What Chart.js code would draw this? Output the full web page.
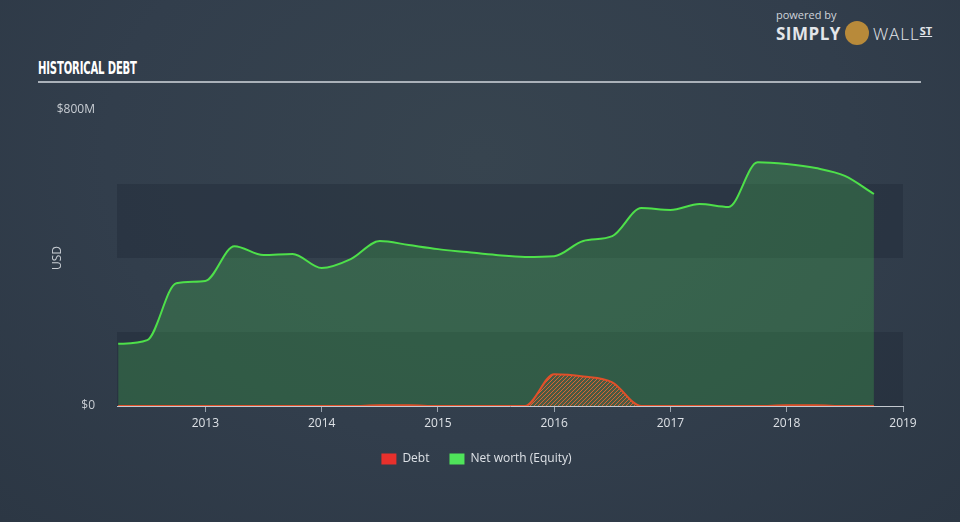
<!DOCTYPE html>
<html>
<head>
<meta charset="utf-8">
<script src="https://cdn.jsdelivr.net/npm/chart.js@4.4.0/dist/chart.umd.min.js"></script>
<style>
  html, body { margin: 0; padding: 0; }
  body {
    width: 960px; height: 522px; overflow: hidden; position: relative;
    background: radial-gradient(ellipse at 50% 30%, #37444f 0%, #323e4c 55%, #2c3744 100%);
    font-family: "Open Sans", "DejaVu Sans", sans-serif;
  }
  #title {
    position: absolute; left: 38px; top: 57px;
    font-family: "DejaVu Sans", sans-serif;
    font-weight: bold; font-size: 18px; color: #ffffff; letter-spacing: -0.3px;
    transform: scaleX(0.56); transform-origin: left top; white-space: nowrap;
  }
  #rule { position: absolute; left: 38px; top: 81px; width: 883px; height: 2px; background: #aab1b9; }
  #logo { position: absolute; left: 776px; top: 9px; color: #e3e6ea; }
  #logo .pb { font-size: 11px; color: #cfd4da; line-height: 12px; }
  #logo .sw { font-size: 17px; line-height: 20px; white-space: nowrap; }
  #logo .b { font-weight: bold; letter-spacing: 0.5px; }
  #logo .w { letter-spacing: 1px; font-weight: 300; }
  #logo .st { font-size: 11px; font-weight: bold; text-decoration: underline; vertical-align: 5px; }
  #logo .bull { display: inline-block; width: 24px; height: 24px; border-radius: 12px; background: #b88a3a; vertical-align: -5px; margin: 0 4px; }
  #wrap { position: absolute; left: 0; top: 0; width: 960px; height: 522px; }
</style>
</head>
<body>
<div id="title">HISTORICAL DEBT</div>
<div id="rule"></div>
<div id="logo">
  <div class="pb">powered by</div>
  <div class="sw"><span class="b">SIMPLY</span><span class="bull"></span><span class="w">WALL</span><span class="st">ST</span></div>
</div>
<div id="wrap"><canvas id="debtChart" width="960" height="522"></canvas></div>
<script>
// quarterly periods (decimal years), values in $M
var periods = [2012.25, 2012.5, 2012.75, 2013.0, 2013.25, 2013.5, 2013.75, 2014.0, 2014.25,
               2014.5, 2014.75, 2015.0, 2015.25, 2015.5, 2015.75, 2016.0, 2016.25, 2016.5,
               2016.75, 2017.0, 2017.25, 2017.5, 2017.75, 2018.0, 2018.25, 2018.5, 2018.75];
var netWorth = [168, 178, 332, 338, 432, 408, 411, 373, 397,
                446, 435, 424, 416, 408, 403, 405, 446, 459,
                535, 530, 546, 538, 659, 654, 643, 622, 573];
var debt = [0, 0, 0, 0, 0, 0, 0, 0, 0,
            2, 2, 0, 0, 0, 0, 86, 80, 64,
            0, 0, 0, 0, 0, 2, 2, 0, 0];
var yearTicks = [2013, 2014, 2015, 2016, 2017, 2018, 2019];

function toPoints(vals){
    var pts = [];
    for (var i = 0; i < periods.length; i++) {
        pts.push({x: periods[i], y: vals[i]});
    }
    return pts;
}

// hatch pattern for the debt area
function makeHatch(){
    var c = document.createElement('canvas');
    c.width = 4; c.height = 4;
    var g = c.getContext('2d');
    g.fillStyle = 'rgba(120, 90, 60, 0.35)';
    g.fillRect(0, 0, 4, 4);
    g.strokeStyle = 'rgba(232, 100, 50, 0.9)';
    g.lineWidth = 1;
    g.beginPath();
    g.moveTo(0, 4); g.lineTo(4, 0);
    g.moveTo(-2, 2); g.lineTo(2, -2);
    g.moveTo(2, 6); g.lineTo(6, 2);
    g.stroke();
    return g.createPattern(c, 'repeat');
}

// darker horizontal bands behind the data
var bandsPlugin = {
    id: 'bands',
    beforeDatasetsDraw: function(chart){
        var ctx = chart.ctx, area = chart.chartArea, y = chart.scales.y;
        ctx.save();
        ctx.fillStyle = 'rgba(30, 38, 52, 0.35)';
        [[0, 200], [400, 600]].forEach(function(b){
            var top = y.getPixelForValue(b[1]), bot = y.getPixelForValue(b[0]);
            ctx.fillRect(area.left, top, area.right - area.left, bot - top);
        });
        ctx.restore();
    }
};

var ctx = document.getElementById('debtChart').getContext('2d');
var myChart = new Chart(ctx, {
    type: 'line',
    data: {
        datasets: [{
            label: 'Debt',
            data: toPoints(debt),
            borderColor: '#e0502a',
            backgroundColor: makeHatch(),
            borderWidth: 2,
            pointRadius: 0,
            fill: 'origin',
            cubicInterpolationMode: 'monotone',
            order: 0
        }, {
            label: 'Net worth (Equity)',
            data: toPoints(netWorth),
            borderColor: '#4ee04a',
            backgroundColor: 'rgba(70, 190, 80, 0.28)',
            borderWidth: 2,
            pointRadius: 0,
            fill: 'origin',
            cubicInterpolationMode: 'monotone',
            order: 1
        }]
    },
    options: {
        responsive: false,
        animation: false,
        layout: { padding: { left: 50, right: 57, top: 110, bottom: 47 } },
        plugins: {
            legend: {
                position: 'bottom',
                labels: {
                    color: '#dde1e6',
                    font: { size: 12, family: 'Open Sans' },
                    boxWidth: 15,
                    boxHeight: 11,
                    padding: 20,
                    generateLabels: function(chart){
                        return [
                            { text: 'Debt', fillStyle: '#e8302c', strokeStyle: '#e8302c', lineWidth: 0, fontColor: '#dde1e6', datasetIndex: 0 },
                            { text: 'Net worth (Equity)', fillStyle: '#4fe35a', strokeStyle: '#4fe35a', lineWidth: 0, fontColor: '#dde1e6', datasetIndex: 1 }
                        ];
                    }
                }
            },
            tooltip: { enabled: false }
        },
        scales: {
            x: {
                type: 'linear',
                min: 2012.24,
                max: 2019,
                afterBuildTicks: function(scale){
                    scale.ticks = yearTicks.map(function(v){ return {value: v}; });
                },
                ticks: {
                    color: '#dde1e6',
                    font: { size: 12, family: 'Open Sans' },
                    padding: 4,
                    callback: function(v){ return String(v); }
                },
                grid: { drawOnChartArea: false, drawTicks: true, tickLength: 6, color: '#9aa3ad' },
                border: { color: '#c3c9d0', width: 1 },
                afterFit: function(scale){ scale.height = 27; }
            },
            y: {
                min: 0,
                max: 800,
                afterFit: function(scale){ scale.width = 67; },
                ticks: {
                    stepSize: 800,
                    color: '#c8cdd3',
                    font: { size: 12, family: 'Open Sans' },
                    padding: 14,
                    callback: function(v){ return v === 0 ? '$0' : '$' + v + 'M'; }
                },
                grid: { display: false },
                border: { display: false },
                title: {
                    display: true,
                    text: 'USD',
                    color: '#c8cdd3',
                    font: { size: 12, family: 'Open Sans' },
                    padding: 0
                }
            }
        }
    },
    plugins: [bandsPlugin]
});
myChart.update();
</script>
</body>
</html>
